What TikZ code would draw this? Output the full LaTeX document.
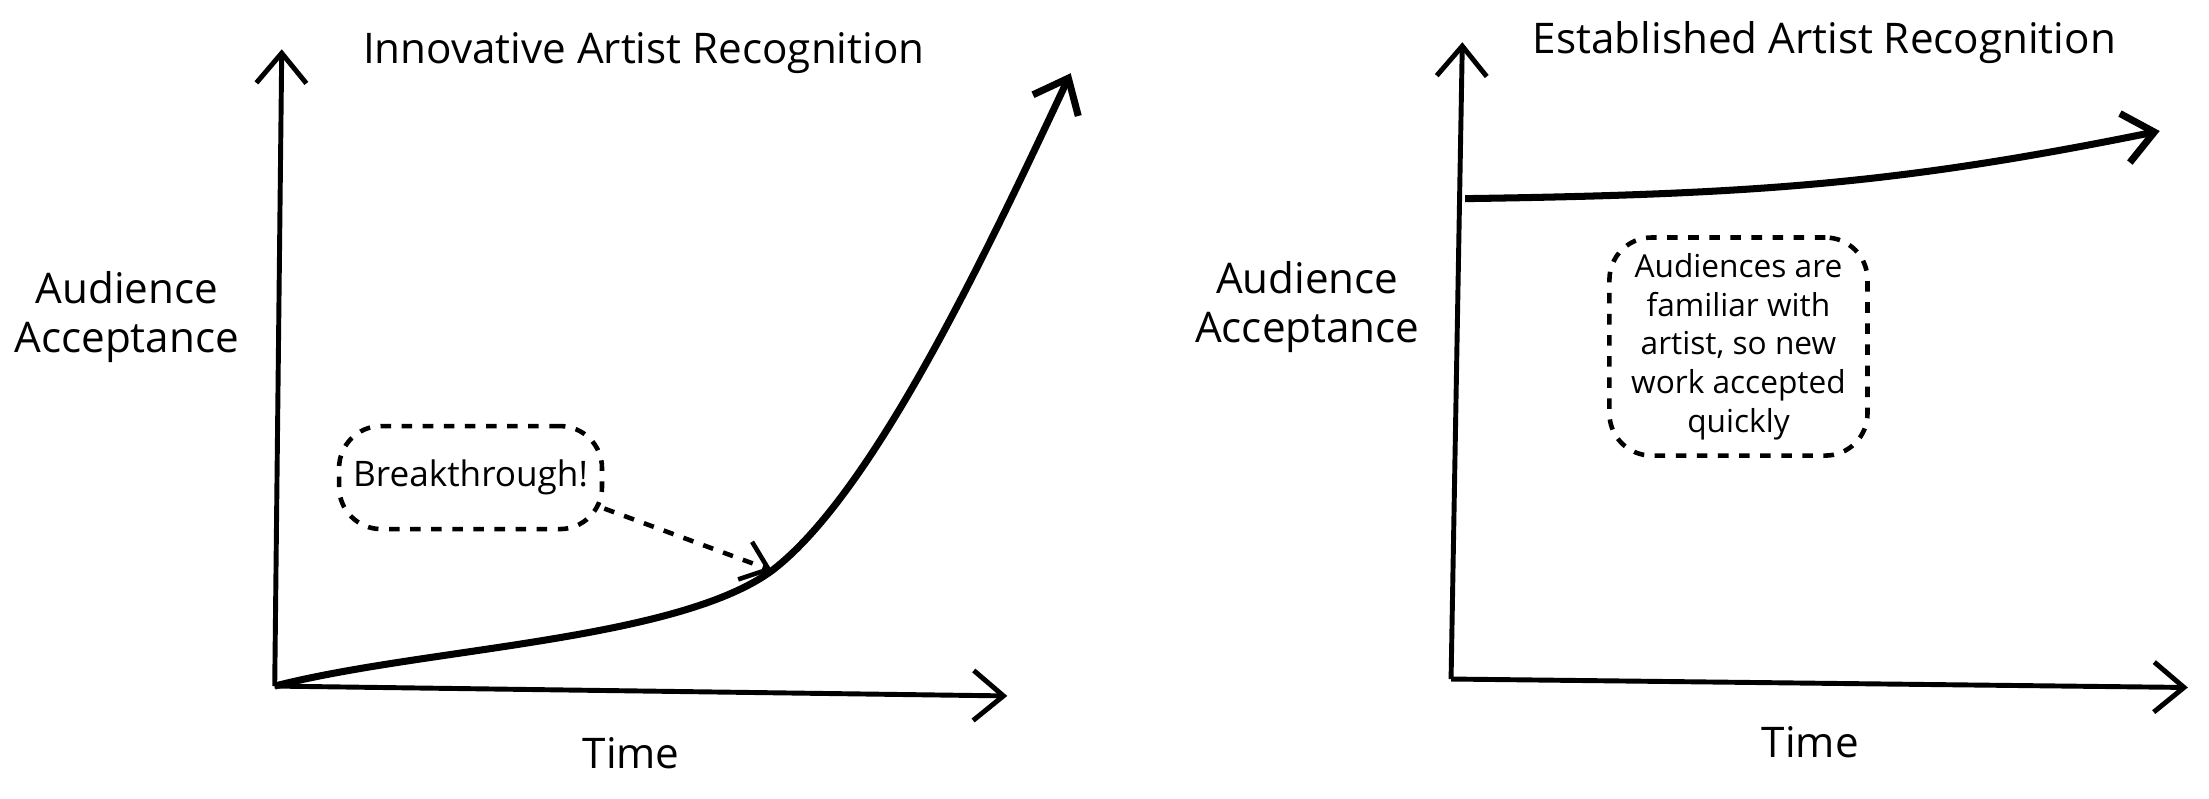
\documentclass[tikz,border=0pt]{standalone}
\usepackage{fontspec}
\setmainfont{Open Sans}
\usetikzlibrary{positioning,arrows.meta}

\begin{document}
\begin{tikzpicture}[x=0.01409cm, y=-0.01409cm,
        axis/.style = {draw, line width = 1.4pt, -{Straight Barb[length=3mm,width=5mm]}},
        curve/.style = {draw, line width = 2pt, -{Straight Barb[length=3mm,width=5mm]}},
        note/.style = {draw, dashed, line width = 1.3pt, rounded corners = 12pt, align = center, inner sep = 4pt},
        label/.style = {align = center, font = \large}]
        \useasboundingbox (0,0) rectangle (1568,567);

        % left chart
        \coordinate (O1) at (195,487);
        \coordinate (Y1) at (200,35);
        \coordinate (X1) at (715,494);
        \coordinate (T1) at (760,52);
        \coordinate (B) at (548,405);
        \path[axis] (O1) -- (Y1);
        \path[axis] (O1) -- (X1);
        \path[curve] (O1) .. controls (300,460) and (480,455) .. (B)
            .. controls (620,350) and (700,180) .. (T1);
        \node [label] (title1) at (457,38) {Innovative Artist Recognition};
        \node [label] (acc1) at (90,225) {Audience\\Acceptance};
        \node [label] (time1) at (448,535) {Time};
        \node [note, minimum width = 2.56cm, minimum height = 1.03cm] (brk) at (334,339) {Breakthrough!};
        \draw [dashed, line width = 1.3pt, -{Straight Barb[length=2.5mm,width=4mm]}] (brk.east) ++(0,22) -- (B);

        % right chart
        \coordinate (O2) at (1030,482);
        \coordinate (Y2) at (1038,30);
        \coordinate (X2) at (1553,488);
        \coordinate (S2) at (1040,141);
        \coordinate (T2) at (1533,93);
        \path[axis] (O2) -- (Y2);
        \path[axis] (O2) -- (X2);
        \path[curve] (S2) .. controls (1250,138) and (1350,130) .. (T2);
        \node [label] (title2) at (1295,30) {Established Artist Recognition};
        \node [label] (acc2) at (928,218) {Audience\\Acceptance};
        \node [label] (time2) at (1285,527) {Time};
        \node [note, font = \small, minimum width = 2.58cm, minimum height = 2.18cm] (fam) at (1234,246)
            {Audiences are\\familiar with\\artist, so new\\work accepted\\quickly};
\end{tikzpicture}
\end{document}
